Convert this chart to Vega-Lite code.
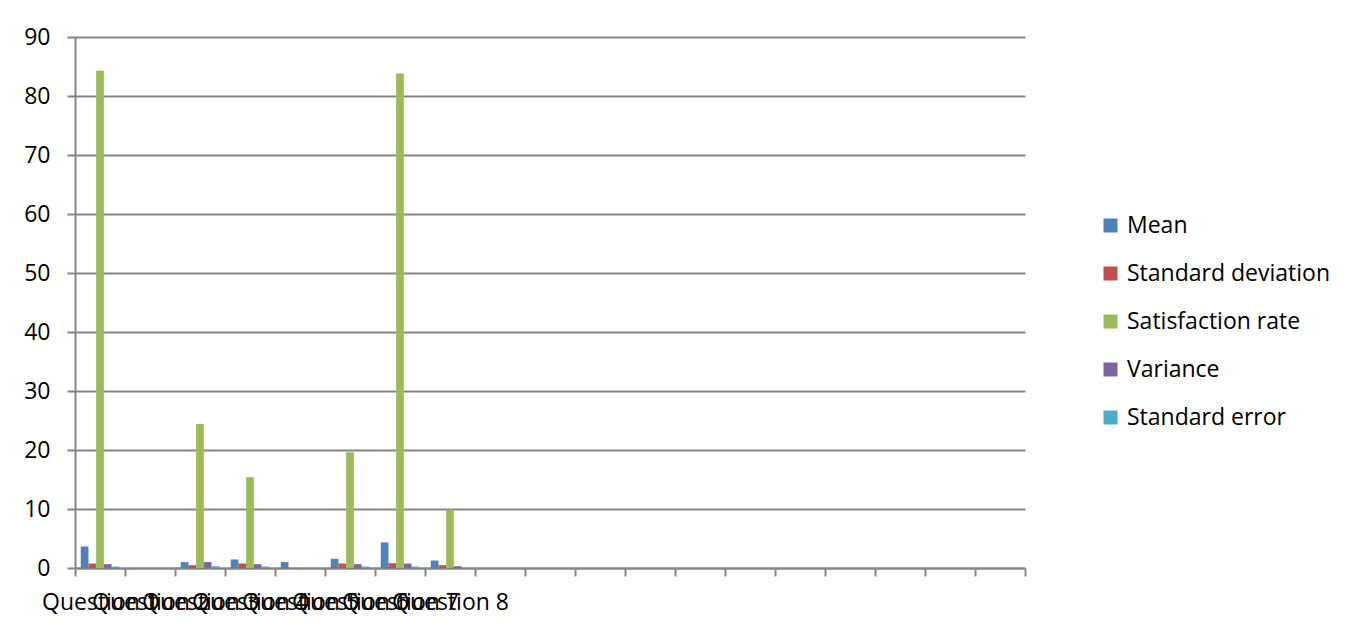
{
  "$schema": "https://vega.github.io/schema/vega-lite/v6.json",
  "autosize": {"type": "none"},
  "width": 950,
  "height": 531,
  "padding": {"left": 75, "top": 37, "right": 333, "bottom": 65},
  "background": "white",
  "data": {
    "values": [
      {"question": "Question 1", "measure": "Mean", "value": 3.65},
      {"question": "Question 1", "measure": "Standard deviation", "value": 0.76},
      {"question": "Question 1", "measure": "Satisfaction rate", "value": 84.3},
      {"question": "Question 1", "measure": "Variance", "value": 0.65},
      {"question": "Question 1", "measure": "Standard error", "value": 0.25},
      {"question": "Question 3", "measure": "Mean", "value": 1.0},
      {"question": "Question 3", "measure": "Standard deviation", "value": 0.48},
      {"question": "Question 3", "measure": "Satisfaction rate", "value": 24.4},
      {"question": "Question 3", "measure": "Variance", "value": 1.0},
      {"question": "Question 3", "measure": "Standard error", "value": 0.3},
      {"question": "Question 4", "measure": "Mean", "value": 1.44},
      {"question": "Question 4", "measure": "Standard deviation", "value": 0.76},
      {"question": "Question 4", "measure": "Satisfaction rate", "value": 15.4},
      {"question": "Question 4", "measure": "Variance", "value": 0.65},
      {"question": "Question 4", "measure": "Standard error", "value": 0.25},
      {"question": "Question 5", "measure": "Mean", "value": 1.0},
      {"question": "Question 6", "measure": "Mean", "value": 1.56},
      {"question": "Question 6", "measure": "Standard deviation", "value": 0.76},
      {"question": "Question 6", "measure": "Satisfaction rate", "value": 19.6},
      {"question": "Question 6", "measure": "Variance", "value": 0.65},
      {"question": "Question 6", "measure": "Standard error", "value": 0.25},
      {"question": "Question 7", "measure": "Mean", "value": 4.33},
      {"question": "Question 7", "measure": "Standard deviation", "value": 0.82},
      {"question": "Question 7", "measure": "Satisfaction rate", "value": 83.8},
      {"question": "Question 7", "measure": "Variance", "value": 0.76},
      {"question": "Question 7", "measure": "Standard error", "value": 0.25},
      {"question": "Question 8", "measure": "Mean", "value": 1.27},
      {"question": "Question 8", "measure": "Standard deviation", "value": 0.48},
      {"question": "Question 8", "measure": "Satisfaction rate", "value": 9.9},
      {"question": "Question 8", "measure": "Variance", "value": 0.3}
    ]
  },
  "mark": {"type": "bar"},
  "encoding": {
    "x": {
      "field": "question",
      "type": "nominal",
      "title": null,
      "scale": {
        "domain": ["Question 1", "Question 2", "Question 3", "Question 4", "Question 5", "Question 6", "Question 7", "Question 8",
                   "c9", "c10", "c11", "c12", "c13", "c14", "c15", "c16", "c17", "c18", "c19"],
        "paddingInner": 0,
        "paddingOuter": 0
      },
      "axis": {
        "labelExpr": "indexof(datum.label, 'Question') == 0 ? datum.label : ''",
        "labelAngle": 0,
        "labelOverlap": false,
        "labelFont": "Open Sans",
        "labelFontSize": 23,
        "labelColor": "#000000",
        "labelPadding": 15,
        "labelBound": false,
        "labelFlush": false,
        "labelLimit": 0,
        "tickBand": "extent",
        "tickSize": 8,
        "tickColor": "#868686",
        "tickWidth": 2,
        "domainColor": "#868686",
        "domainWidth": 2,
        "grid": false
      }
    },
    "xOffset": {
      "field": "measure",
      "type": "nominal",
      "sort": ["Mean", "Standard deviation", "Satisfaction rate", "Variance", "Standard error"],
      "scale": {"paddingInner": 0, "paddingOuter": 0.75}
    },
    "y": {
      "field": "value",
      "type": "quantitative",
      "title": null,
      "scale": {"domain": [0, 90], "nice": false},
      "axis": {
        "values": [0, 10, 20, 30, 40, 50, 60, 70, 80, 90],
        "labelFont": "Open Sans",
        "labelFontSize": 23,
        "labelColor": "#000000",
        "labelPadding": 17,
        "tickSize": 8,
        "tickColor": "#868686",
        "tickWidth": 2,
        "domainColor": "#868686",
        "domainWidth": 2,
        "gridColor": "#868686",
        "gridWidth": 2
      }
    },
    "color": {
      "field": "measure",
      "type": "nominal",
      "sort": ["Mean", "Standard deviation", "Satisfaction rate", "Variance", "Standard error"],
      "scale": {
        "domain": ["Mean", "Standard deviation", "Satisfaction rate", "Variance", "Standard error"],
        "range": ["#4F81BD", "#C0504D", "#9BBB59", "#8064A2", "#4BACC6"]
      },
      "legend": {
        "title": null,
        "orient": "none",
        "legendX": 1024,
        "legendY": 177,
        "symbolType": "square",
        "symbolSize": 196,
        "symbolStrokeWidth": 0,
        "labelFont": "Open Sans",
        "labelFontSize": 23,
        "labelColor": "#000000",
        "labelOffset": 5,
        "labelLimit": 0,
        "rowPadding": 24
      }
    }
  },
  "config": {
    "view": {"stroke": null}
  }
}
